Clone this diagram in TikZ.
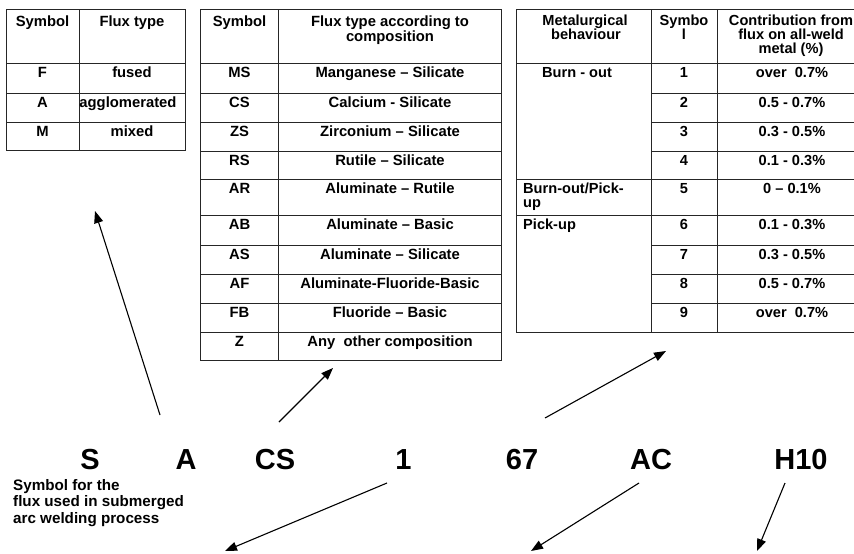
\documentclass[tikz,border=0pt]{standalone}
\usepackage{fontspec}
\setmainfont{Liberation Sans}
\usetikzlibrary{arrows.meta}
\begin{document}
\begin{tikzpicture}[x=1pt,y=-1pt,
 tl/.style={draw=black!85, line width=0.9pt},
 ta/.style={font=\fontsize{14.8}{15}\selectfont\bfseries, inner sep=0pt, anchor=base},
 taw/.style={ta, anchor=base west},
 tb/.style={font=\fontsize{14.6}{14}\selectfont\bfseries, inner sep=0pt, anchor=base},
 tbw/.style={tb, anchor=base west},
 big/.style={font=\fontsize{29}{30}\selectfont\bfseries, inner sep=0pt, anchor=base},
 lab/.style={font=\fontsize{15.2}{15}\selectfont\bfseries, inner sep=0pt, anchor=base west},
 arr/.style={line width=1.1pt, -{Triangle[length=12pt,width=9pt]}}]
\useasboundingbox (0,0) rectangle (854,554);
\fill[white] (0,0) rectangle (854,554);
% ---- table 1
\draw[tl] (6,9.3) rectangle (185,150.7);
\draw[tl] (79,9.3) -- (79,150.7);
\foreach \y in {63,93,122} \draw[tl] (6,\y) -- (185,\y);
\node[ta] (t1h1) at (42.5,26) {Symbol};
\node[ta] (t1h2) at (132,26) {Flux type};
\node[ta] (t1a1) at (42.5,77.5) {F};
\node[ta] (t1a2) at (132,77.5) {fused};
\node[ta] (t1b1) at (42.5,107.5) {A};
\node[ta] (t1b2) at (128,107.5) {agglomerated};
\node[ta] (t1c1) at (42.5,136.5) {M};
\node[ta] (t1c2) at (132,136.5) {mixed};
% ---- table 2
\draw[tl] (200.7,9.3) rectangle (501.7,360);
\draw[tl] (278.3,9.3) -- (278.3,360);
\foreach \y in {63,93,122,151,179,215,245,274,303,332} \draw[tl] (200.7,\y) -- (501.7,\y);
\node[ta] (t2h1) at (239.5,26) {Symbol};
\node[ta] (t2h2) at (390,26) {Flux type according to};
\node[ta] (t2h3) at (390,41.5) {composition};
\foreach \top/\s/\t [count=\i] in {63/MS/Manganese – Silicate, 93/CS/Calcium - Silicate, 122/ZS/Zirconium – Silicate, 151/RS/Rutile – Silicate, 179/AR/Aluminate – Rutile, 215/AB/Aluminate – Basic, 245/AS/Aluminate – Silicate, 274/AF/Aluminate-Fluoride-Basic, 303/FB/Fluoride – Basic, 332/Z/Any~~other composition}{
  \node[ta] (t2s\i) at (239.5,\top+14.5) {\s};
  \node[ta] (t2t\i) at (390,\top+14.5) {\t};
}
% ---- table 3
\draw[tl] (870,9.3) -- (516.7,9.3) -- (516.7,332) -- (870,332);
\draw[tl] (651,9.3) -- (651,332);
\draw[tl] (717.3,9.3) -- (717.3,332);
\foreach \y in {63,179,215} \draw[tl] (516.7,\y) -- (870,\y);
\foreach \y in {93,122,151,245,274,303} \draw[tl] (651,\y) -- (870,\y);
\node[tb] (t3h1) at (585,25.5) {Metalurgical};
\node[tb] (t3h2) at (586,39.5) {behaviour};
\node[tb] (t3h3) at (684,25.5) {Symbo};
\node[tb] (t3h4) at (684,39.5) {l};
\node[tb] (t3h5) at (791,25.5) {Contribution from};
\node[tb] (t3h6) at (791,39.5) {flux on all-weld};
\node[tb] (t3h7) at (791,53.5) {metal (\%)};
\node[tbw] (t3b1) at (542,77.5) {Burn - out};
\node[tbw] (t3b2) at (523,193) {Burn-out/Pick-};
\node[tbw] (t3b3) at (523,207) {up};
\node[tbw] (t3b4) at (523,229.5) {Pick-up};
\foreach \top/\s/\t in {63/1/over~~0.7\%, 93/2/0.5 - 0.7\%, 122/3/0.3 - 0.5\%, 151/4/0.1 - 0.3\%, 179/5/0 – 0.1\%, 215/6/0.1 - 0.3\%, 245/7/0.3 - 0.5\%, 274/8/0.5 - 0.7\%, 303/9/over~~0.7\%}{
  \node[tb] (t3s\s) at (684,\top+14.5) {\s};
  \node[tb] (t3v\s) at (792,\top+14.5) {\t};
}
% ---- designation
\node[big] (S) at (90,469.5) {S};
\node[big] (A) at (186,469.5) {A};
\node[big] (CS) at (275,469.5) {CS};
\node[big] (one) at (403.5,469.5) {1};
\node[big] (sixseven) at (522,469.5) {67};
\node[big] (AC) at (651,469.5) {AC};
\node[big] (H) at (801,469.5) {H10};
\node[lab] (l1) at (13,490) {Symbol for the};
\node[lab] (l2) at (13,506.5) {flux used in submerged};
\node[lab] (l3) at (13,523) {arc welding process};
% ---- arrows
\coordinate (a1s) at (160,415); \coordinate (a1e) at (95,211);
\coordinate (a2s) at (279,422); \coordinate (a2e) at (333,368);
\coordinate (a3s) at (545,418); \coordinate (a3e) at (666,351);
\coordinate (a4s) at (387,483); \coordinate (a4e) at (225,551);
\coordinate (a5s) at (639,483); \coordinate (a5e) at (531,551);
\coordinate (a6s) at (785,483); \coordinate (a6e) at (757,551);
\draw[arr] (a1s) -- (a1e);
\draw[arr] (a2s) -- (a2e);
\draw[arr] (a3s) -- (a3e);
\draw[arr] (a4s) -- (a4e);
\draw[arr] (a5s) -- (a5e);
\draw[arr] (a6s) -- (a6e);
\end{tikzpicture}
\end{document}
